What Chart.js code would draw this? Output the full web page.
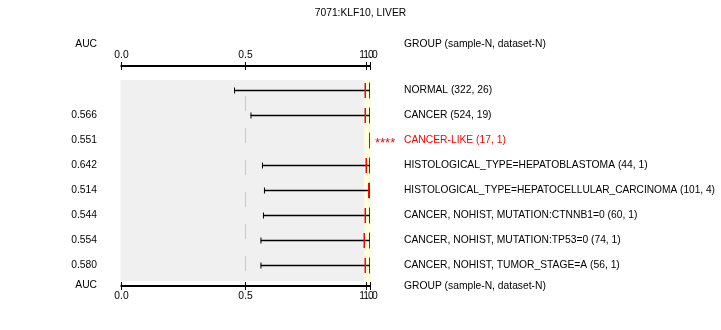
<!DOCTYPE html>
<html>
<head>
<meta charset="utf-8">
<script src="https://cdn.jsdelivr.net/npm/chart.js@4/dist/chart.umd.min.js"></script>
<style>
    html, body { margin: 0; padding: 0; background: #ffffff; }
    #wrap { width: 721px; height: 330px; }
</style>
</head>
<body>
<div id="wrap"><canvas id="forest"></canvas></div>
<script>
// --------------------------- Données -----------------------------------
const titre = '7071:KLF10, LIVER';
const groupes = [
    'NORMAL (322, 26)',
    'CANCER (524, 19)',
    'CANCER-LIKE (17, 1)',
    'HISTOLOGICAL_TYPE=HEPATOBLASTOMA (44, 1)',
    'HISTOLOGICAL_TYPE=HEPATOCELLULAR_CARCINOMA (101, 4)',
    'CANCER, NOHIST, MUTATION:CTNNB1=0 (60, 1)',
    'CANCER, NOHIST, MUTATION:TP53=0 (74, 1)',
    'CANCER, NOHIST, TUMOR_STAGE=A (56, 1)'
];
const aucTextes = ['', '0.566', '0.551', '0.642', '0.514', '0.544', '0.554', '0.580'];
const basMoustache = [0.457, 0.523, null, 0.569, 0.577, 0.573, 0.563, 0.563];
const hautMoustache = [1.0, 1.0, 1.0, 1.0, 1.0, 1.0, 1.0, 1.0];
const marqueRouge = [0.981, 0.981, 1.0, 0.985, 0.995, 0.981, 0.977, 0.981];
const significatif = ['', '', '****', '', '', '', '', ''];
const ticksValeurs = [0.0, 0.5, 0.984, 1.0];
const ticksTextes = ['0.0', '0.5', '1.0', '1.0'];
const zoneGrise = [0.0, 0.978];
const zoneJaune = [0.978, 1.003];

const police = '10.3px "Liberation Sans", Arial, sans-serif';
const policeEtoiles = '13px "Liberation Sans", Arial, sans-serif';

// ---------------------------- Plugin : fond, axes et textes ------------------------------------
const decorPlugin = {
    id: 'decor',
    beforeDatasetsDraw(chart) {
        const ctx = chart.ctx;
        const x = chart.scales.x;
        const area = chart.chartArea;
        ctx.save();
        // fond gris et bande jaune
        ctx.fillStyle = '#f0f0f0';
        ctx.fillRect(x.getPixelForValue(zoneGrise[0]), area.top + 2,
            x.getPixelForValue(zoneGrise[1]) - x.getPixelForValue(zoneGrise[0]), area.bottom - area.top + 1);
        ctx.fillStyle = '#ffffdc';
        ctx.fillRect(x.getPixelForValue(zoneJaune[0]), area.top + 2,
            x.getPixelForValue(zoneJaune[1]) - x.getPixelForValue(zoneJaune[0]), area.bottom - area.top + 1);
        // ligne pointillée à 0.5
        const xm = Math.round(x.getPixelForValue(0.5)) + 0.5;
        ctx.strokeStyle = '#c8c8c8';
        ctx.lineWidth = 1;
        ctx.setLineDash([15, 17]);
        ctx.beginPath();
        ctx.moveTo(xm, area.top + 18);
        ctx.lineTo(xm, area.bottom - 6);
        ctx.stroke();
        ctx.restore();
    },
    afterDraw(chart) {
        const ctx = chart.ctx;
        const x = chart.scales.x;
        const y = chart.scales.y;
        ctx.save();
        ctx.font = police;
        ctx.fillStyle = '#000000';
        ctx.textBaseline = 'middle';

        // titre
        ctx.textAlign = 'center';
        ctx.fillText(titre, 360.5, 13);

        // axes haut et bas
        const x0 = x.getPixelForValue(0);
        const x1 = x.getPixelForValue(1);
        [[65, 55.5], [285, 296]].forEach(([ya, yl]) => {
            ctx.fillStyle = '#000000';
            ctx.fillRect(x0, ya, x1 - x0 + 1, 2);
            ticksValeurs.forEach((v, i) => {
                const xt = Math.round(x.getPixelForValue(v));
                ctx.fillRect(xt, ya - 3, 1, 8);
                ctx.fillText(ticksTextes[i], xt + 0.5, yl);
            });
        });

        // colonne AUC
        ctx.textAlign = 'right';
        ctx.fillText('AUC', 97, 44);
        ctx.fillText('AUC', 97, 285);
        aucTextes.forEach((t, i) => {
            ctx.fillText(t, 97, y.getPixelForValue(i));
        });

        // colonne des groupes
        ctx.textAlign = 'left';
        ctx.fillText('GROUP (sample-N, dataset-N)', 404, 44);
        ctx.fillText('GROUP (sample-N, dataset-N)', 404, 286.5);
        groupes.forEach((g, i) => {
            const yp = y.getPixelForValue(i);
            ctx.fillStyle = significatif[i] ? '#ff0000' : '#000000';
            ctx.font = police;
            ctx.fillText(g, 404, yp, 311);
            if (significatif[i]) {
                ctx.font = policeEtoiles;
                ctx.fillText(significatif[i], 375, yp + 3);
            }
        });
        ctx.restore();
    }
};

// ---------------------------- Graphique ------------------------------------
function pointsSur(valeurs) {
    return valeurs.map((v, i) => (v === null ? null : { x: v, y: groupes[i] })).filter(p => p !== null);
}

new Chart(document.getElementById('forest'), {
    type: 'bar',
    data: {
        labels: groupes,
        datasets: [
            {
                label: 'intervalle',
                data: groupes.map((g, i) => (basMoustache[i] === null ? null : [basMoustache[i], hautMoustache[i]])),
                backgroundColor: '#000000',
                borderWidth: 0,
                barThickness: 1,
                grouped: false,
                order: 3
            },
            {
                type: 'scatter',
                label: 'debut',
                data: pointsSur(basMoustache),
                pointStyle: 'line',
                rotation: 90,
                radius: 3,
                borderColor: '#000000',
                borderWidth: 1,
                order: 2
            },
            {
                type: 'scatter',
                label: 'fin',
                data: pointsSur(hautMoustache),
                pointStyle: 'line',
                rotation: 90,
                radius: 8,
                borderColor: '#000000',
                borderWidth: 1.5,
                order: 1
            },
            {
                type: 'scatter',
                label: 'auc',
                data: pointsSur(marqueRouge),
                pointStyle: 'line',
                rotation: 90,
                radius: 7.5,
                borderColor: '#ff0000',
                borderWidth: 1.5,
                order: 0
            }
        ]
    },
    options: {
        indexAxis: 'y',
        responsive: true,
        maintainAspectRatio: false,
        animation: false,
        layout: { padding: { left: 120.5, right: 351, top: 78, bottom: 52 } },
        scales: {
            x: { type: 'linear', min: 0, max: 1, display: false },
            y: { type: 'category', offset: true, display: false }
        },
        plugins: {
            legend: { display: false },
            tooltip: { enabled: false }
        }
    },
    plugins: [decorPlugin]
});
</script>
</body>
</html>
